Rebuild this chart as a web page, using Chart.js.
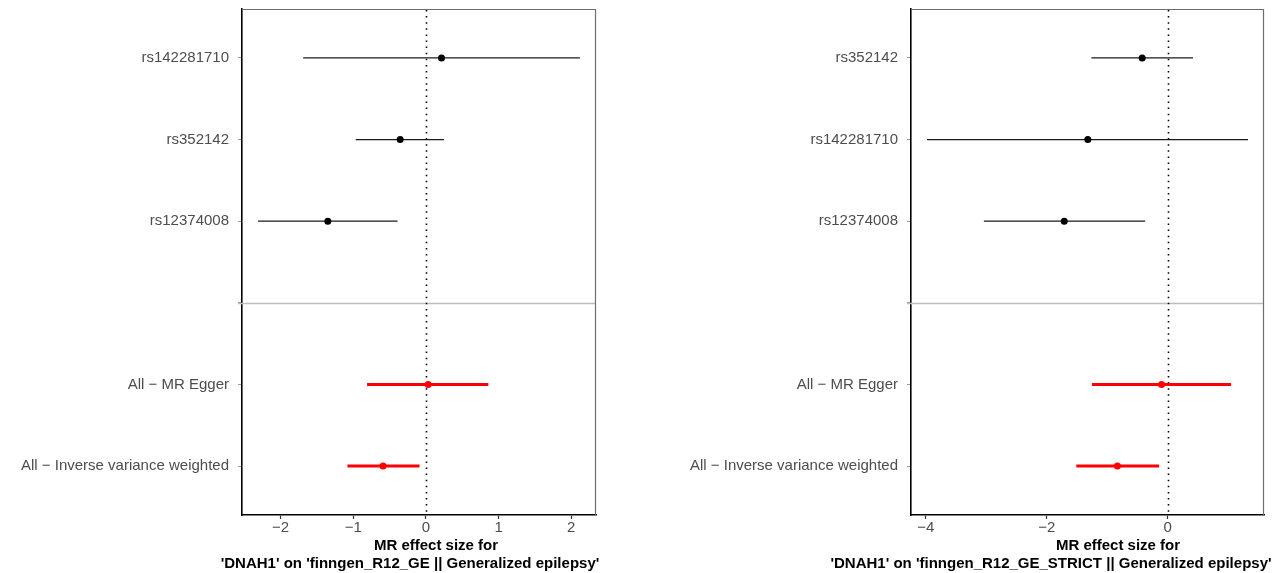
<!DOCTYPE html>
<html>
<head>
<meta charset="utf-8">
<script src="https://cdn.jsdelivr.net/npm/chart.js@4.4.1/dist/chart.umd.min.js"></script>
<style>
  html, body { margin: 0; padding: 0; background: #ffffff; }
  #wrap { position: relative; width: 1275px; height: 573px; overflow: hidden; background: #ffffff; }
  canvas { position: absolute; top: 0; }
</style>
</head>
<body>
<div id="wrap">
  <canvas id="ge" width="637" height="573" style="left:0px"></canvas>
  <canvas id="strict" width="638" height="573" style="left:637px"></canvas>
</div>
<script>
const FONT = "'Liberation Sans', Arial, Helvetica, sans-serif";

// Method summary rows (shared by both panels)
const methodNames = ['All − MR Egger', 'All − Inverse variance weighted'];

// Panel 1: DNAH1 on finngen_R12_GE (Generalized epilepsy)
const geSnps = ['rs142281710', 'rs352142', 'rs12374008'];
const geSnpBeta = [0.215, -0.354, -1.35];
const geSnpLow = [-1.69, -0.966, -2.31];
const geSnpHigh = [2.12, 0.248, -0.39];
const geMethodBeta = [0.032, -0.59];
const geMethodLow = [-0.81, -1.08];
const geMethodHigh = [0.86, -0.088];
const geTicks = [-2, -1, 0, 1, 2];
const geTitle = ['MR effect size for', "'DNAH1' on 'finngen_R12_GE || Generalized epilepsy'"];

// Panel 2: DNAH1 on finngen_R12_GE_STRICT (Generalized epilepsy)
const strictSnps = ['rs352142', 'rs142281710', 'rs12374008'];
const strictSnpBeta = [-0.42, -1.32, -1.71];
const strictSnpLow = [-1.26, -3.98, -3.04];
const strictSnpHigh = [0.42, 1.33, -0.37];
const strictMethodBeta = [-0.10, -0.83];
const strictMethodLow = [-1.25, -1.51];
const strictMethodHigh = [1.05, -0.14];
const strictTicks = [-4, -2, 0];
const strictTitle = ['MR effect size for', "'DNAH1' on 'finngen_R12_GE_STRICT || Generalized epilepsy'"];

// Row positions from top to bottom; row 3 is the blank divider row
const rowPos = [6, 5, 4, 3, 2, 1];
const dividerRow = 3;

// ggplot-style 5% expansion of the continuous axis
function expandedRange(lows, highs) {
  const lo = Math.min(...lows), hi = Math.max(...highs);
  const pad = (hi - lo) * 0.05;
  return [lo - pad, hi + pad];
}

function buildDatasets(snps, sb, sl, sh, mb, ml, mh) {
  const sets = [];
  const pts = [], colors = [];
  snps.forEach((name, i) => {
    const y = rowPos[i];
    sets.push({ data: [{ x: sl[i], y }, { x: sh[i], y }], showLine: true,
      borderColor: '#1a1a1a', borderWidth: 1.3, pointRadius: 0, order: 2 });
    pts.push({ x: sb[i], y }); colors.push('#000000');
  });
  mb.forEach((b, i) => {
    const y = rowPos[snps.length + 1 + i];
    sets.push({ data: [{ x: ml[i], y }, { x: mh[i], y }], showLine: true,
      borderColor: '#ff0000', borderWidth: 3, pointRadius: 0, order: 1 });
    pts.push({ x: b, y }); colors.push('#ff0000');
  });
  sets.push({ data: pts, showLine: false, pointRadius: 3.5, pointHoverRadius: 3.5,
    pointBackgroundColor: colors, pointBorderColor: colors, pointBorderWidth: 0, order: 0 });
  return sets;
}

// Divider line, dotted null line, panel frame and axis titles
const decorPlugin = {
  id: 'decor',
  beforeDatasetsDraw(chart, args, opts) {
    const { ctx, chartArea: a, scales: { x, y } } = chart;
    ctx.save();
    const yd = Math.round(y.getPixelForValue(dividerRow)) + 0.5;
    ctx.strokeStyle = '#bdbdbd';
    ctx.lineWidth = 1.3;
    ctx.beginPath(); ctx.moveTo(a.left - 4, yd); ctx.lineTo(a.right, yd); ctx.stroke();
    const x0 = Math.round(x.getPixelForValue(0)) + 0.5;
    ctx.strokeStyle = '#000000';
    ctx.lineWidth = 1.6;
    ctx.setLineDash([1.5, 4.6]);
    ctx.beginPath(); ctx.moveTo(x0, a.top + 1); ctx.lineTo(x0, a.bottom); ctx.stroke();
    ctx.restore();
  },
  afterDraw(chart, args, opts) {
    const { ctx, chartArea: a } = chart;
    ctx.save();
    ctx.strokeStyle = '#6e6e6e';
    ctx.lineWidth = 1.2;
    ctx.beginPath();
    ctx.moveTo(a.left, a.top + 0.5); ctx.lineTo(a.right - 0.5, a.top + 0.5); ctx.lineTo(a.right - 0.5, a.bottom);
    ctx.stroke();
    ctx.fillStyle = '#000000';
    ctx.font = 'bold 15px ' + FONT;
    ctx.textAlign = 'center';
    ctx.textBaseline = 'middle';
    opts.lines.forEach((t, i) => ctx.fillText(t, opts.centers[i], opts.rows[i]));
    ctx.restore();
  }
};

function makePanel(id, cfg) {
  const labels = [...cfg.snps, '', ...methodNames];
  const [xmin, xmax] = expandedRange(
    [...cfg.sl, ...cfg.ml], [...cfg.sh, ...cfg.mh]);
  new Chart(document.getElementById(id), {
    type: 'scatter',
    data: { datasets: buildDatasets(cfg.snps, cfg.sb, cfg.sl, cfg.sh, cfg.mb, cfg.ml, cfg.mh) },
    options: {
      responsive: false,
      animation: false,
      events: [],
      layout: { padding: { left: 0, right: cfg.padRight, top: 9, bottom: 0 } },
      plugins: {
        legend: { display: false },
        tooltip: { enabled: false },
        decor: { lines: cfg.title, centers: cfg.titleCenters, rows: [545.5, 564] }
      },
      scales: {
        x: {
          type: 'linear', min: xmin, max: xmax,
          afterBuildTicks: s => { s.ticks = cfg.ticks.map(v => ({ value: v })); },
          afterFit: s => { s.height = 58; s.paddingLeft = 0; s.paddingRight = 0; },
          grid: { drawOnChartArea: false, drawTicks: true, tickLength: 4, tickColor: '#333333', tickWidth: 1.2 },
          border: { display: true, color: '#000000', width: 1.6 },
          ticks: { color: '#4d4d4d', padding: 0, font: { family: FONT, size: 15 },
            maxRotation: 0, autoSkip: false,
            callback: v => String(v).replace('-', '−') }
        },
        y: {
          type: 'linear', min: 0.4, max: 6.6,
          afterBuildTicks: s => { s.ticks = rowPos.map(v => ({ value: v })); },
          afterFit: s => { s.width = cfg.yWidth; s.paddingTop = 0; s.paddingBottom = 0; },
          grid: { drawOnChartArea: false, drawTicks: true, tickLength: 4, tickColor: '#9a9a9a', tickWidth: 1 },
          border: { display: true, color: '#000000', width: 1.6 },
          ticks: { color: '#4d4d4d', padding: 9, font: { family: FONT, size: 15 }, autoSkip: false,
            callback: v => labels[rowPos.indexOf(v)] }
        }
      }
    },
    plugins: [decorPlugin]
  });
}

makePanel('ge', {
  snps: geSnps, sb: geSnpBeta, sl: geSnpLow, sh: geSnpHigh,
  mb: geMethodBeta, ml: geMethodLow, mh: geMethodHigh,
  ticks: geTicks, title: geTitle, titleCenters: [436, 410],
  yWidth: 242, padRight: 41
});

makePanel('strict', {
  snps: strictSnps, sb: strictSnpBeta, sl: strictSnpLow, sh: strictSnpHigh,
  mb: strictMethodBeta, ml: strictMethodLow, mh: strictMethodHigh,
  ticks: strictTicks, title: strictTitle, titleCenters: [481, 414],
  yWidth: 274, padRight: 11
});
</script>
</body>
</html>
